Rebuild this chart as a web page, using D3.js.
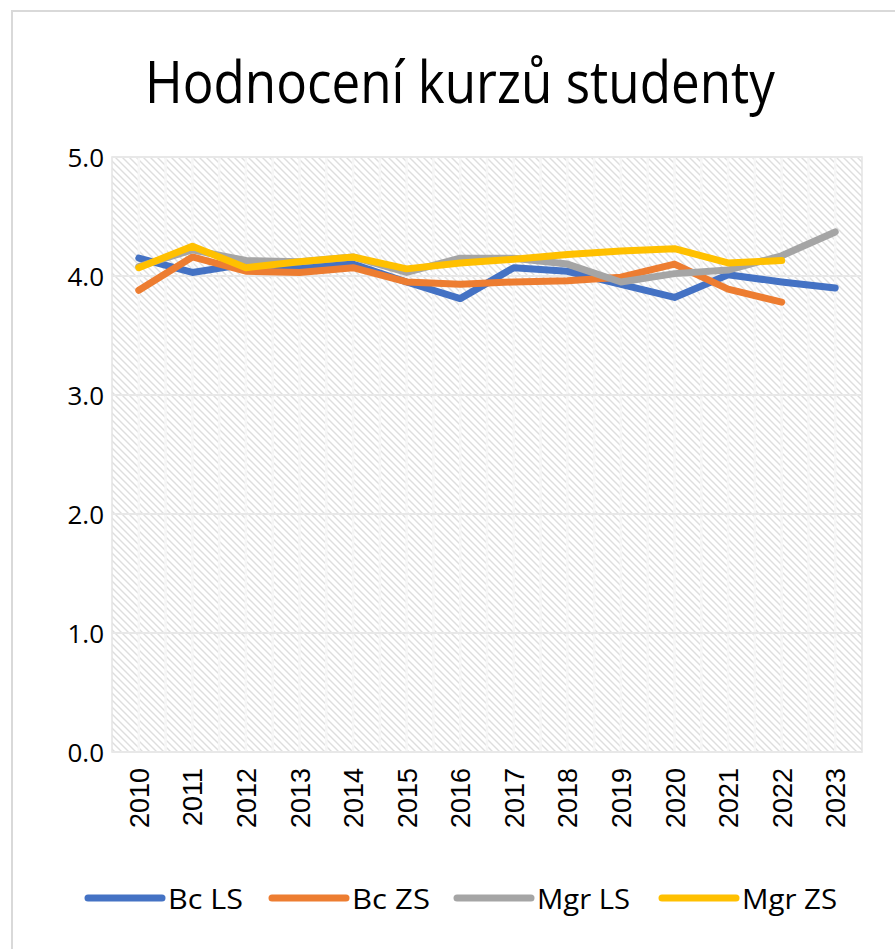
<!DOCTYPE html>
<html>
<head>
<meta charset="utf-8">
<script src="https://cdn.jsdelivr.net/npm/d3@7"></script>
<style>
  body { margin: 0; background: #fff; }
  text { fill: #000; }
</style>
</head>
<body>
<div id="chart"></div>
<script>
// data
const years = ["2010","2011","2012","2013","2014","2015","2016","2017","2018","2019","2020","2021","2022","2023"];
const bcLS  = [4.15, 4.03, 4.10, 4.08, 4.10, 3.95, 3.81, 4.07, 4.04, 3.93, 3.82, 4.01, 3.95, 3.90];
const bcZS  = [3.88, 4.16, 4.04, 4.03, 4.07, 3.95, 3.93, 3.95, 3.96, 3.99, 4.10, 3.89, 3.78];
const mgrLS = [4.08, 4.22, 4.13, 4.12, 4.16, 4.03, 4.15, 4.15, 4.10, 3.95, 4.02, 4.05, 4.17, 4.37];
const mgrZS = [4.07, 4.25, 4.07, 4.12, 4.16, 4.06, 4.11, 4.14, 4.18, 4.21, 4.23, 4.11, 4.13];
const yTicks = [0, 1, 2, 3, 4, 5];

const series = [
  {name: "Bc LS",  values: bcLS,  color: "#4472C4"},
  {name: "Bc ZS",  values: bcZS,  color: "#ED7D31"},
  {name: "Mgr LS", values: mgrLS, color: "#A5A5A5"},
  {name: "Mgr ZS", values: mgrZS, color: "#FFC000"}
];

const width = 895, height = 949,
    margin = {top: 157, bottom: 197, left: 112, right: 33};

const svg = d3.select("#chart")
    .append("svg")
    .attr("width", width)
    .attr("height", height);

// hatch pattern for the plot area
const defs = svg.append("defs");
const pat = defs.append("pattern")
    .attr("id", "hatch")
    .attr("patternUnits", "userSpaceOnUse")
    .attr("width", 7)
    .attr("height", 7);
pat.append("rect").attr("width", 7).attr("height", 7).attr("fill", "#fff");
pat.append("path")
    .attr("d", "M-1,-1 L8,8 M-1,6 L1,8 M6,-1 L8,1")
    .attr("stroke", "#dedede")
    .attr("stroke-width", 1.4);

// chart border
svg.append("path")
    .attr("d", `M12,${height} L12,11 L${width},11`)
    .attr("fill", "none")
    .attr("stroke", "#d9d9d9")
    .attr("stroke-width", 2);

const x = d3.scaleBand()
    .domain(years)
    .range([margin.left, width - margin.right]);

const y = d3.scaleLinear()
    .domain([0, 5])
    .range([height - margin.bottom, margin.top]);

// plot background
svg.append("rect")
    .attr("x", margin.left)
    .attr("y", margin.top)
    .attr("width", width - margin.left - margin.right)
    .attr("height", height - margin.top - margin.bottom)
    .attr("fill", "url(#hatch)")
    .attr("stroke", "#e3e3e3")
    .attr("stroke-width", 1.5);

// vertical light strips (half categories)
const halfs = [];
years.forEach(d => { halfs.push(x(d)); halfs.push(x(d) + x.bandwidth() / 2); });
svg.append("g")
    .selectAll("line")
    .data(halfs.slice(1))
    .join("line")
    .attr("x1", d => d).attr("x2", d => d)
    .attr("y1", margin.top).attr("y2", height - margin.bottom)
    .attr("stroke", "#f6f6f6")
    .attr("stroke-width", 2.5);

// horizontal gridlines
svg.append("g")
    .selectAll("line")
    .data(yTicks)
    .join("line")
    .attr("x1", margin.left).attr("x2", width - margin.right)
    .attr("y1", d => y(d)).attr("y2", d => y(d))
    .attr("stroke", "#e8e8e8")
    .attr("stroke-width", 2);

// y axis labels
const yAxis = d3.axisLeft(y).tickValues(yTicks).tickFormat(d3.format(".1f")).tickSize(0).tickPadding(8);
svg.append("g")
    .attr("class", "y-axis")
    .attr("transform", `translate(${margin.left}, 0)`)
    .call(yAxis)
    .call(g => g.select(".domain").remove())
    .selectAll("text")
    .attr("font-family", "Open Sans")
    .attr("font-size", 26)
    .attr("dy", "0.35em")
    .style("fill", "#000");

// x axis labels, rotated
svg.append("g")
    .attr("class", "x-axis")
    .selectAll("text")
    .data(years)
    .join("text")
    .attr("transform", d => `translate(${x(d) + x.bandwidth() / 2 + 10}, ${height - margin.bottom + 16}) rotate(-90)`)
    .attr("text-anchor", "end")
    .attr("font-family", "Liberation Sans")
    .attr("font-size", 27)
    .text(d => d);

// lines
const line = d3.line()
    .x((d, i) => x(years[i]) + x.bandwidth() / 2)
    .y(d => y(d));

svg.append("g")
    .selectAll("path")
    .data(series)
    .join("path")
    .attr("d", d => line(d.values))
    .attr("fill", "none")
    .attr("stroke", d => d.color)
    .attr("stroke-width", 7)
    .attr("stroke-linecap", "round")
    .attr("stroke-linejoin", "round");

// title
svg.append("text")
    .attr("x", 460)
    .attr("y", 103)
    .attr("text-anchor", "middle")
    .attr("font-family", "Open Sans")
    .attr("font-size", 58)
    .attr("textLength", 630)
    .attr("lengthAdjust", "spacingAndGlyphs")
    .text("Hodnocení kurzů studenty");

// legend
const legendX = [88, 272, 457, 662];
const legendW = [75, 78, 93, 95];
const legend = svg.append("g").attr("class", "legend");
series.forEach((s, i) => {
    legend.append("line")
        .attr("x1", legendX[i]).attr("x2", legendX[i] + 74)
        .attr("y1", 898).attr("y2", 898)
        .attr("stroke", s.color)
        .attr("stroke-width", 7)
        .attr("stroke-linecap", "round");
    legend.append("text")
        .attr("x", legendX[i] + 80)
        .attr("y", 909)
        .attr("font-family", "Open Sans")
        .attr("font-size", 28)
        .attr("textLength", legendW[i])
        .attr("lengthAdjust", "spacingAndGlyphs")
        .text(s.name);
});
</script>
</body>
</html>
